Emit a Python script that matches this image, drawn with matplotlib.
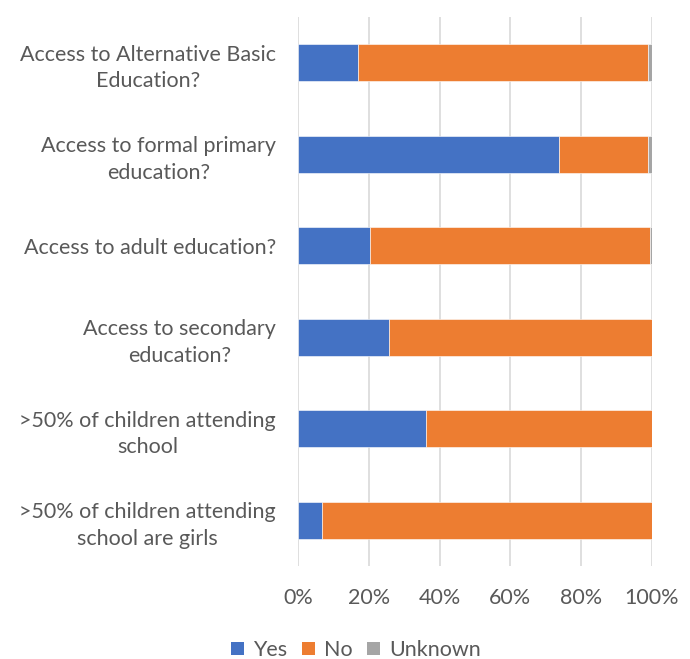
import matplotlib
matplotlib.use("Agg")
import matplotlib.pyplot as plt
from matplotlib.patches import Patch

categories = [
    "Access to Alternative Basic\nEducation?",
    "Access to formal primary\neducation?",
    "Access to adult education?",
    "Access to secondary\neducation?",
    ">50% of children attending\nschool",
    ">50% of children attending\nschool are girls",
]
yes = [16.9, 73.8, 20.3, 25.7, 36.2, 6.9]
no = [82.0, 25.1, 79.0, 74.3, 63.8, 93.1]
unknown = [1.1, 1.1, 0.7, 0.0, 0.0, 0.0]
series_names = ["Yes", "No", "Unknown"]
colors = ["#4472C4", "#ED7D31", "#A5A5A5"]
xticks = [0, 20, 40, 60, 80, 100]
xticklabels = ["0%", "20%", "40%", "60%", "80%", "100%"]

FONT = "Lato"
TXT = "#595959"
FS = 15.5
plt.rcParams["font.family"] = [FONT, "DejaVu Sans"]

fig = plt.figure(figsize=(6.9, 6.59), dpi=100)
ax = fig.add_axes([298/690, 1 - 566/659, 354/690, 549/659])

pos = list(range(len(categories)))
h = 0.4
left = [0]*len(categories)
for vals, c, name in zip([yes, no, unknown], colors, series_names):
    ax.barh(pos, vals, left=left, height=h, color=c, edgecolor="white", linewidth=0.4, label=name, zorder=3)
    left = [l + v for l, v in zip(left, vals)]

ax.set_xlim(0, 100)
ax.set_ylim(len(categories) - 0.5, -0.5)
ax.set_yticks(pos)
ax.set_yticklabels(categories, fontsize=FS, color=TXT, multialignment="center", linespacing=1.4)
ax.set_xticks(xticks)
ax.set_xticklabels(xticklabels, fontsize=FS, color=TXT)
ax.tick_params(axis="both", length=0)
ax.tick_params(axis="y", pad=16)
ax.tick_params(axis="x", pad=16)
ax.grid(axis="x", color="#D9D9D9", linewidth=1.2, zorder=0)
for s in ax.spines.values():
    s.set_visible(False)

handles = [Patch(facecolor=c, label=n) for c, n in zip(colors, series_names)]
fig.legend(handles=handles, loc="center", bbox_to_anchor=(356/690, 1 - 650/659), ncol=3,
           frameon=False, fontsize=FS, labelcolor=TXT, handlelength=0.6, handleheight=0.6,
           handletextpad=0.4, columnspacing=0.7)

fig.savefig("out.png", dpi=100, facecolor="white")
